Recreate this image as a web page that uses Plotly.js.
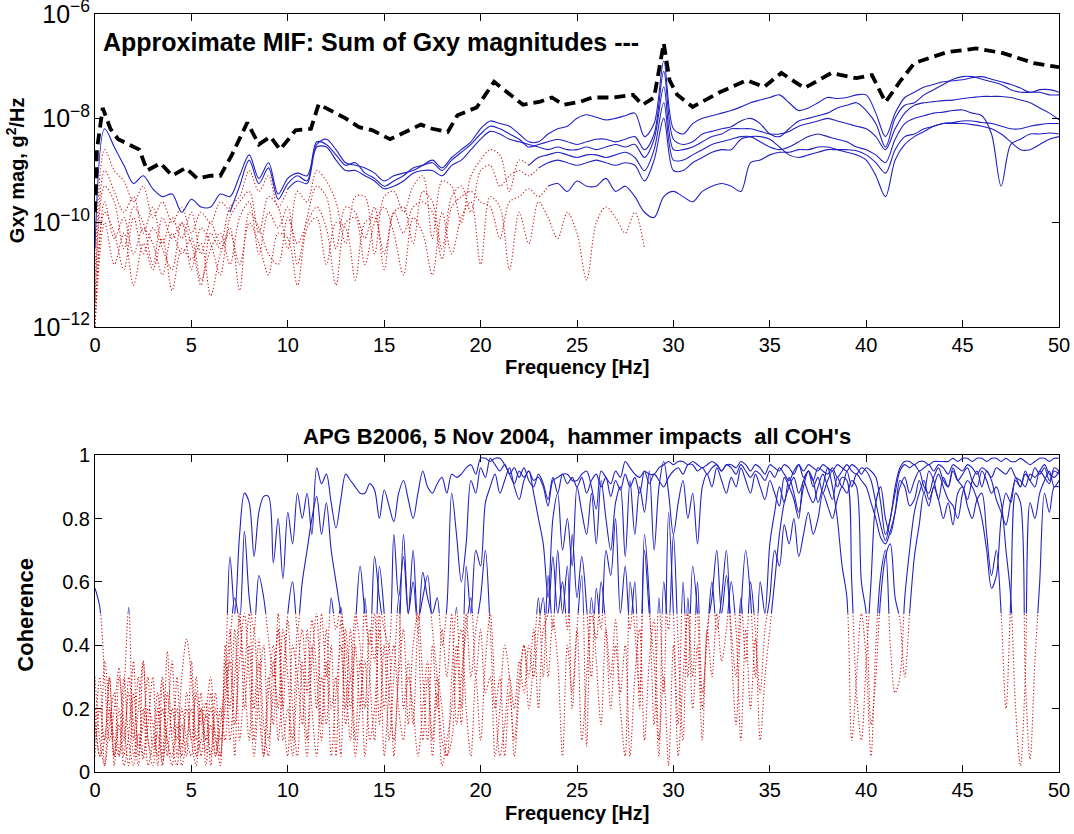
<!DOCTYPE html>
<html><head><meta charset="utf-8">
<script src="https://cdn.plot.ly/plotly-3.0.1.min.js"></script>
<style>html,body{margin:0;padding:0;background:#fff;} #chart{width:1074px;height:834px;}</style>
</head><body><div id="chart"></div>
<script>
// ---------- top panel: cross spectra (log10 of |Gxy|) ----------
const gxyFreq = [0,0.5,1,1.5,2,2.5,3,3.5,4,4.5,5,5.5,6,6.5,7,7.5,8,8.5,9,9.5,
 10,10.5,11,11.5,12,12.5,13,13.5,14,14.5,15,15.5,16,16.5,17,17.5,18,18.5,19,19.5,
 20,20.5,21,21.5,22,22.5,23,23.5,24,24.5,25,25.5,26,26.5,27,27.5,28,28.5,29,29.5,
 30,30.5,31,31.5,32,32.5,33,33.5,34,34.5,35,35.5,36,36.5,37,37.5,38,38.5,39,39.5,
 40,40.5,41,41.5,42,42.5,43,43.5,44,44.5,45,45.5,46,46.5,47,47.5,48,48.5,49,49.5,50];
const gxyCh1 = [-10.5,-8.2,-8.55,-8.9,-9.25,-9.1,-9.35,-9.5,-9.45,-9.8,
 -9.55,-9.7,-9.7,-9.45,-9.5,-9.1,-8.7,-9.15,-8.85,-9.45,
 -9.15,-9.05,-9.1,-8.5,-8.4,-8.6,-8.85,-8.9,-8.95,-9.05,
 -9.2,-9.1,-9.05,-9.0,-8.9,-8.8,-8.95,-8.75,-8.6,-8.45,
 -8.2,-8.05,-8.1,-8.15,-8.3,-8.45,-8.45,-8.3,-8.2,-8.15,
 -8.0,-7.93,-7.98,-8.03,-8.0,-7.95,-7.9,-8.35,-8.1,-6.9,
 -8.2,-8.3,-8.1,-8.0,-7.95,-7.9,-7.85,-7.78,-7.7,-7.65,
 -7.6,-7.55,-7.7,-7.85,-7.8,-7.7,-7.6,-7.62,-7.6,-7.55,
 -7.55,-7.9,-8.35,-7.9,-7.6,-7.5,-7.4,-7.35,-7.3,-7.28,
 -7.26,-7.22,-7.2,-7.25,-7.3,-7.35,-7.42,-7.5,-7.45,-7.45,-7.5];
const gxyCh2 = [-11.0,-8.6,-9.0,-9.2,-9.6,-9.3,-9.9,-9.6,-10.0,-9.7,
 -10.2,-9.8,-10.0,-9.6,-9.8,-9.3,-8.8,-9.25,-8.95,-9.55,
 -9.25,-9.1,-9.2,-8.45,-8.5,-8.7,-8.9,-8.85,-9.05,-9.15,
 -9.3,-9.2,-9.1,-8.95,-8.9,-8.85,-9.0,-8.8,-8.65,-8.5,
 -8.3,-8.15,-8.2,-8.3,-8.4,-8.55,-8.5,-8.45,-8.4,-8.45,
 -8.5,-8.45,-8.4,-8.4,-8.45,-8.4,-8.35,-8.6,-8.3,-7.1,
 -8.4,-8.5,-8.45,-8.3,-8.25,-8.2,-8.16,-8.05,-8.0,-8.1,
 -8.3,-8.35,-8.2,-8.05,-8.0,-7.95,-7.9,-7.8,-7.75,-7.7,
 -7.85,-8.1,-8.55,-8.0,-7.75,-7.7,-7.55,-7.45,-7.35,-7.25,
 -7.2,-7.2,-7.25,-7.3,-7.35,-7.45,-7.5,-7.5,-7.5,-7.55,-7.55];
const gxyCh3 = [-11.5,-9.0,-9.4,-9.8,-9.5,-10.2,-9.7,-10.4,-9.9,-10.3,
 -9.8,-10.6,-10.0,-10.4,-9.7,-9.5,-9.0,-9.4,-9.1,-9.7,
 -9.35,-9.2,-9.25,-8.55,-8.55,-8.8,-9.0,-9.0,-9.1,-9.2,
 -9.35,-9.3,-9.2,-9.05,-9.0,-9.0,-9.1,-8.9,-8.8,-8.6,
 -8.4,-8.25,-8.3,-8.4,-8.45,-8.5,-8.55,-8.6,-8.55,-8.6,
 -8.6,-8.55,-8.6,-8.55,-8.5,-8.55,-8.5,-8.75,-8.4,-7.4,
 -8.6,-8.6,-8.55,-8.45,-8.35,-8.3,-8.2,-8.2,-8.2,-8.25,
 -8.3,-8.3,-8.25,-8.15,-8.1,-8.05,-8.0,-8.05,-8.1,-8.15,
 -8.2,-8.35,-8.6,-8.2,-7.9,-7.75,-7.7,-7.68,-7.66,-7.65,
 -7.62,-7.6,-7.58,-7.58,-7.58,-7.6,-7.65,-7.7,-7.8,-7.9,-8.03];
const gxyCh4 = [-11.8,-9.3,-9.6,-10.5,-9.7,-10.0,-10.8,-9.9,-10.3,-10.0,
 -10.9,-10.1,-10.4,-11.0,-9.9,-9.6,-9.4,-10.2,-9.5,-9.7,
 -10.5,-9.4,-9.6,-9.0,-9.2,-9.6,-10.4,-9.5,-9.5,-10.6,
 -9.5,-9.4,-9.8,-9.3,-9.1,-10.3,-9.2,-9.3,-10.0,-9.1,
 -8.8,-8.6,-8.7,-9.4,-8.8,-8.9,-8.75,-8.7,-8.65,-8.7,
 -8.75,-8.7,-8.7,-8.75,-8.7,-8.65,-8.75,-9.0,-8.6,-7.7,
 -8.8,-8.8,-8.7,-8.6,-8.5,-8.45,-8.4,-8.35,-8.35,-8.45,
 -8.55,-8.6,-8.55,-8.45,-8.35,-8.3,-8.35,-8.4,-8.45,-8.55,
 -8.6,-8.7,-8.85,-8.4,-8.1,-8.0,-7.95,-7.9,-7.88,-7.85,
 -7.84,-7.9,-7.95,-8.3,-9.3,-8.5,-8.4,-8.3,-8.3,-8.28,-8.3];
const gxyCh5 = [-12.0,-9.6,-10.3,-9.9,-10.6,-10.1,-10.4,-11.0,-10.2,-10.6,
 -10.3,-11.1,-10.5,-10.2,-10.8,-9.9,-9.6,-10.6,-9.8,-10.1,
 -9.7,-10.8,-9.9,-9.3,-9.5,-10.5,-9.7,-9.8,-10.3,-9.7,
 -10.9,-9.8,-9.7,-10.4,-9.4,-9.6,-10.5,-9.5,-9.3,-9.8,
 -9.0,-8.9,-9.3,-9.1,-9.0,-9.1,-8.95,-8.85,-8.8,-8.85,
 -8.9,-8.85,-8.8,-8.85,-8.9,-8.85,-8.9,-9.2,-8.8,-8.0,
 -9.0,-9.0,-8.85,-8.75,-8.65,-8.6,-8.6,-8.4,-8.35,-8.35,
 -8.4,-8.55,-8.7,-8.75,-8.7,-8.65,-8.6,-8.6,-8.6,-8.62,
 -8.7,-8.85,-9.05,-8.6,-8.35,-8.3,-8.2,-8.15,-8.1,-8.1,
 -8.1,-8.12,-8.15,-8.2,-8.3,-8.45,-8.6,-8.6,-8.5,-8.4,-8.35];
const gxyCh6 = [-12.0,-10.0,-10.8,-10.2,-11.2,-10.4,-10.9,-10.3,-11.3,-10.5,
 -10.7,-10.4,-11.4,-10.6,-10.2,-10.8,-10.0,-10.4,-11.0,-10.2,
 -10.3,-11.2,-10.1,-9.9,-10.8,-10.0,-10.1,-11.1,-10.0,-9.9,
 -10.6,-9.8,-10.2,-9.7,-9.6,-9.8,-10.7,-9.7,-9.5,-9.4,
 -9.6,-9.7,-10.3,-9.6,-9.5,-9.35,-9.5,-9.3,-9.25,-9.4,
 -9.2,-9.3,-9.3,-9.15,-9.4,-9.3,-9.5,-9.8,-9.9,-9.5,
 -9.4,-9.5,-9.6,-9.4,-9.3,-9.25,-9.3,-9.4,-8.85,-8.8,
 -8.7,-8.65,-8.65,-8.6,-8.6,-8.55,-8.55,-8.6,-8.65,-8.7,
 -8.8,-9.1,-9.5,-8.8,-8.5,-8.35,-8.25,-8.15,-8.1,-8.08,
 -8.05,-8.05,-8.08,-8.1,-8.15,-8.2,-8.2,-8.15,-8.12,-8.1,-8.1];
// extra low-coherence cross spectrum seen only as red dots (0 - 28.5 Hz)
const gxyRedFreq = [0,0.5,1,1.5,2,2.5,3,3.5,4,4.5,5,5.5,6,6.5,7,7.5,8,8.5,9,9.5,
 10,10.5,11,11.5,12,12.5,13,13.5,14,14.5,15,15.5,16,16.5,17,17.5,18,18.5,19,19.5,
 20,20.5,21,21.5,22,22.5,23,23.5,24,24.5,25,25.5,26,26.5,27,27.5,28,28.5];
const gxyRed = [-12,-9.8,-10.2,-10.9,-9.9,-10.6,-10.1,-10.5,-10.9,-10.0,
 -10.4,-11.2,-10.2,-10.5,-10.1,-11.3,-9.8,-10.1,-10.6,-10.8,
 -9.9,-10.4,-10.0,-9.7,-10.1,-11.2,-10.0,-9.9,-10.8,-10.0,
 -9.7,-10.2,-11.0,-9.9,-10.2,-11.0,-9.8,-10.6,-9.9,-9.6,
 -10.8,-9.5,-9.7,-10.9,-9.8,-10.4,-9.6,-9.9,-10.3,-9.8,
 -10.2,-11.1,-10.0,-9.7,-9.9,-10.2,-9.8,-10.5];
// approximate MIF (sum of Gxy magnitudes), log10
const mifFreq = [0,0.1,0.4,0.8,1.2,1.8,2.3,2.7,3.4,4.0,4.7,5.3,6.0,6.5,7.1,7.9,8.5,9.1,9.6,10.4,
 11.2,11.6,12.2,13.0,13.7,14.4,15.3,16.0,16.9,17.5,18.3,18.8,19.8,20.7,21.4,22.2,23.1,23.7,24.3,25.2,
 25.8,26.9,27.9,28.4,29.0,29.5,29.8,30.2,31.0,31.9,32.4,33.8,34.7,35.6,36.8,38.2,39.5,40.3,41.0,41.8,
 42.5,44.2,45.7,47.1,48.7,50];
const mifLog = [-9.8,-8.6,-7.8,-8.2,-8.4,-8.5,-8.6,-9.0,-8.86,-9.1,-8.95,-9.15,-9.1,-9.1,-8.7,-8.08,-8.5,-8.35,-8.6,-8.23,
 -8.2,-7.73,-7.85,-8.0,-8.17,-8.23,-8.4,-8.27,-8.12,-8.2,-8.26,-7.94,-7.79,-7.3,-7.5,-7.74,-7.68,-7.6,-7.74,-7.68,
 -7.6,-7.6,-7.55,-7.74,-7.6,-6.56,-7.27,-7.55,-7.78,-7.6,-7.5,-7.27,-7.4,-7.13,-7.42,-7.13,-7.23,-7.17,-7.69,-7.27,
 -6.94,-6.73,-6.66,-6.75,-6.94,-7.02];

// ---------- bottom panel: coherence ----------
const cohFreq = [0,0.25,0.5,0.75,1,1.25,1.5,1.75,2,2.25,2.5,2.75,3,3.25,3.5,3.75,4,4.25,4.5,4.75,
 5,5.25,5.5,5.75,6,6.25,6.5,6.75,7,7.25,7.5,7.75,8,8.25,8.5,8.75,9,9.25,9.5,9.75,
 10,10.25,10.5,10.75,11,11.25,11.5,11.75,12,12.25,12.5,12.75,13,13.25,13.5,13.75,14,14.25,14.5,14.75,
 15,15.25,15.5,15.75,16,16.25,16.5,16.75,17,17.25,17.5,17.75,18,18.25,18.5,18.75,19,19.25,19.5,19.75,
 20,20.25,20.5,20.75,21,21.25,21.5,21.75,22,22.25,22.5,22.75,23,23.25,23.5,23.75,24,24.25,24.5,24.75,
 25,25.25,25.5,25.75,26,26.25,26.5,26.75,27,27.25,27.5,27.75,28,28.25,28.5,28.75,29,29.25,29.5,29.75,
 30,30.25,30.5,30.75,31,31.25,31.5,31.75,32,32.25,32.5,32.75,33,33.25,33.5,33.75,34,34.25,34.5,34.75,
 35,35.25,35.5,35.75,36,36.25,36.5,36.75,37,37.25,37.5,37.75,38,38.25,38.5,38.75,39,39.25,39.5,39.75,
 40,40.25,40.5,40.75,41,41.25,41.5,41.75,42,42.25,42.5,42.75,43,43.25,43.5,43.75,44,44.25,44.5,44.75,
 45,45.25,45.5,45.75,46,46.25,46.5,46.75,47,47.25,47.5,47.75,48,48.25,48.5,48.75,49,49.25,49.5,49.75,50];
const cohCh1 = [0.58,0.52,0.3,0.1, 0.2,0.33,0.1,0.25, 0.05,0.2,0.35,0.1, 0.02,0.15,0.3,0.05, 0.2,0.1,0.3,0.42,
 0.3,0.05,0.2,0.1, 0.25,0.05,0.15,0.3, 0.68,0.5,0.75,0.88, 0.85,0.68,0.82,0.87, 0.87,0.66,0.8,0.61,
 0.82,0.72,0.88,0.8, 0.88,0.75,0.96,0.91, 0.94,0.85,0.77,0.86, 0.94,0.92,0.9,0.88, 0.88,0.91,0.89,0.8,
 0.89,0.84,0.79,0.88, 0.92,0.86,0.8,0.88, 0.95,0.9,0.88,0.91, 0.93,0.88,0.94,0.93, 0.94,0.96,0.97,0.94,
 0.99,0.99,0.98,0.99, 0.99,0.97,0.94,0.91, 0.95,0.93,0.95,0.92, 0.93,0.9,0.84,0.92, 0.93,0.94,0.94,0.92,
 0.92,0.94,0.95,0.9, 0.83,0.95,0.93,0.91, 0.95,0.93,0.98,0.96, 0.94,0.93,0.95,0.94, 0.94,0.96,0.97,0.98,
 0.97,0.98,0.98,0.97, 0.98,0.97,0.96,0.97, 0.98,0.97,0.95,0.97, 0.97,0.96,0.98,0.97, 0.95,0.97,0.96,0.94,
 0.97,0.96,0.95,0.97, 0.96,0.94,0.97,0.95, 0.97,0.96,0.95,0.97, 0.96,0.95,0.97,0.96, 0.95,0.97,0.96,0.94,
 0.96,0.95,0.93,0.85, 0.75,0.8,0.9,0.96, 0.98,0.98,0.97,0.98, 0.98,0.97,0.98,0.98, 0.98,0.98,0.99,0.98,
 0.99,0.99,0.98,0.99, 0.99,0.98,0.99,0.99, 0.98,0.99,0.98,0.98, 0.99,0.98,0.97,0.98, 0.99,0.99,0.98,0.99, 0.99];
const cohCh2 = [0.2,0.05,0.1,0.3, 0.05,0.15,0.02,0.12, 0.35,0.05,0.2,0.02, 0.1,0.25,0.05,0.38, 0.1,0.02,0.15,0.05,
 0.35,0.1,0.25,0.02, 0.15,0.05,0.2,0.1, 0.4,0.55,0.48,0.76, 0.55,0.45,0.62,0.55, 0.42,0.3,0.45,0.2,
 0.5,0.6,0.45,0.6, 0.7,0.8,0.87,0.75, 0.85,0.7,0.6,0.5, 0.4,0.2,0.45,0.65, 0.5,0.4,0.68,0.55,
 0.45,0.4,0.75,0.55, 0.68,0.5,0.6,0.45, 0.63,0.55,0.5,0.55, 0.4,0.52,0.88,0.75, 0.6,0.72,0.92,0.88,
 0.96,0.93,0.99,0.97, 0.95,0.97,0.94,0.96, 0.93,0.96,0.92,0.9, 0.94,0.91,0.86,0.93, 0.88,0.94,0.91,0.93,
 0.9,0.93,0.88,0.92, 0.94,0.9,0.93,0.87, 0.92,0.89,0.94,0.9, 0.93,0.88,0.95,0.91, 0.94,0.92,0.9,0.93,
 0.95,0.96,0.94,0.97, 0.97,0.95,0.96,0.94, 0.96,0.97,0.95,0.97, 0.96,0.94,0.97,0.95, 0.93,0.95,0.94,0.92,
 0.95,0.93,0.96,0.94, 0.92,0.95,0.97,0.93, 0.95,0.92,0.96,0.95, 0.94,0.96,0.93,0.95, 0.97,0.95,0.94,0.96,
 0.95,0.92,0.85,0.78, 0.73,0.8,0.88,0.95, 0.97,0.96,0.97,0.95, 0.96,0.97,0.95,0.97, 0.96,0.94,0.97,0.96,
 0.95,0.97,0.96,0.94, 0.96,0.95,0.93,0.96, 0.95,0.94,0.96,0.93, 0.92,0.9,0.94,0.93, 0.95,0.97,0.94,0.93, 0.95];
const cohCh3 = [0.1,0.3,0.02,0.2, 0.1,0.05,0.25,0.52, 0.1,0.3,0.05,0.15, 0.3,0.02,0.2,0.1, 0.05,0.3,0.08,0.2,
 0.1,0.25,0.05,0.18, 0.3,0.1,0.05,0.4, 0.1,0.3,0.5,0.2, 0.4,0.1,0.35,0.05, 0.25,0.4,0.1,0.3,
 0.48,0.2,0.05,0.35, 0.1,0.4,0.2,0.5, 0.3,0.55,0.45,0.52, 0.3,0.1,0.4,0.2, 0.55,0.3,0.1,0.5,
 0.2,0.4,0.05,0.35, 0.75,0.5,0.7,0.48, 0.55,0.62,0.45,0.3, 0.1,0.05,0.3,0.52, 0.2,0.65,0.5,0.7,
 0.65,0.85,0.9,0.94, 0.88,0.92,0.96,0.9, 0.86,0.92,0.95,0.88, 0.8,0.72,0.55,0.8, 0.88,0.7,0.8,0.65,
 0.9,0.82,0.75,0.88, 0.72,0.92,0.8,0.7, 0.85,0.9,0.68,0.92, 0.75,0.9,0.82,0.95, 0.7,0.9,0.98,0.88,
 0.75,0.85,0.92,0.8, 0.88,0.72,0.9,0.94, 0.9,0.96,0.92,0.88, 0.93,0.9,0.96,0.92, 0.88,0.94,0.9,0.86,
 0.92,0.88,0.84,0.93, 0.9,0.86,0.8,0.92, 0.88,0.85,0.9,0.94, 0.9,0.86,0.93,0.9, 0.95,0.9,0.94,0.92,
 0.9,0.85,0.8,0.74, 0.72,0.76,0.82,0.92, 0.9,0.84,0.86,0.92, 0.88,0.95,0.92,0.86, 0.93,0.9,0.96,0.92,
 0.9,0.86,0.92,0.95, 0.9,0.95,0.92,0.86, 0.82,0.78,0.86,0.92, 0.9,0.95,0.92,0.96, 0.94,0.96,0.92,0.95, 0.94];
const cohCh4 = [0.05,0.2,0.1,0.3, 0.02,0.2,0.05,0.3, 0.15,0.02,0.35,0.1, 0.05,0.2,0.03,0.15, 0.35,0.05,0.2,0.1,
 0.05,0.3,0.15,0.22, 0.02,0.2,0.05,0.25, 0.35,0.05,0.48,0.3, 0.1,0.45,0.2,0.05, 0.3,0.15,0.5,0.2,
 0.05,0.4,0.3,0.15, 0.45,0.2,0.05,0.3, 0.15,0.4,0.05,0.48, 0.2,0.45,0.1,0.35, 0.05,0.3,0.5,0.15,
 0.4,0.1,0.3,0.55, 0.2,0.35,0.15,0.45, 0.1,0.3,0.05,0.25, 0.02,0.1,0.2,0.4, 0.15,0.5,0.3,0.45,
 0.55,0.7,0.45,0.2, 0.3,0.05,0.25,0.1, 0.3,0.4,0.2,0.35, 0.55,0.3,0.62,0.45, 0.7,0.5,0.65,0.2,
 0.45,0.62,0.08,0.5, 0.42,0.6,0.45,0.2, 0.4,0.2,0.05,0.6, 0.45,0.25,0.7,0.5, 0.35,0.05,0.6,0.45,
 0.75,0.4,0.1,0.55, 0.3,0.6,0.25,0.42, 0.6,0.45,0.55,0.7, 0.4,0.15,0.5,0.7, 0.55,0.3,0.6,0.5,
 0.72,0.82,0.9,0.85, 0.93,0.88,0.82,0.9, 0.95,0.92,0.85,0.9, 0.96,0.9,0.8,0.65, 0.55,0.1,0.3,0.5,
 0.35,0.05,0.4,0.62, 0.7,0.4,0.25,0.3, 0.55,0.7,0.82,0.88, 0.92,0.86,0.9,0.94, 0.9,0.86,0.84,0.8,
 0.88,0.92,0.9,0.86, 0.8,0.7,0.58,0.62, 0.8,0.88,0.85,0.93, 0.9,0.94,0.92,0.9, 0.95,0.93,0.91,0.96, 0.95];
const cohCh5 = [0.3,0.1,0.02,0.15, 0.25,0.05,0.3,0.1, 0.02,0.12,0.04,0.2, 0.15,0.05,0.28,0.1, 0.02,0.15,0.05,0.25,
 0.1,0.02,0.2,0.06, 0.2,0.12,0.02,0.35, 0.2,0.45,0.1,0.3, 0.5,0.2,0.42,0.15, 0.05,0.35,0.2,0.45,
 0.3,0.1,0.45,0.25, 0.05,0.35,0.5,0.15, 0.45,0.2,0.3,0.05, 0.45,0.3,0.5,0.4, 0.2,0.45,0.35,0.65,
 0.5,0.25,0.1,0.3, 0.45,0.15,0.4,0.5, 0.3,0.1,0.4,0.2, 0.45,0.3,0.5,0.15, 0.3,0.45,0.55,0.3,
 0.45,0.25,0.3,0.05, 0.2,0.4,0.3,0.05, 0.25,0.4,0.3,0.45, 0.2,0.45,0.5,0.68, 0.5,0.6,0.45,0.75,
 0.55,0.68,0.52,0.3, 0.58,0.45,0.7,0.62, 0.8,0.5,0.65,0.45, 0.6,0.2,0.75,0.55, 0.15,0.55,0.25,0.82,
 0.5,0.15,0.6,0.3, 0.65,0.5,0.2,0.45, 0.55,0.7,0.5,0.62, 0.45,0.3,0.55,0.35, 0.6,0.45,0.25,0.45,
 0.55,0.7,0.65,0.78, 0.72,0.8,0.68,0.75, 0.82,0.75,0.8,0.88, 0.84,0.8,0.86,0.9, 0.88,0.92,0.9,0.6,
 0.5,0.15,0.3,0.55, 0.68,0.72,0.55,0.48, 0.3,0.5,0.68,0.78, 0.88,0.84,0.9,0.86, 0.8,0.85,0.78,0.88,
 0.9,0.84,0.8,0.86, 0.88,0.75,0.62,0.7, 0.5,0.2,0.55,0.88, 0.85,0.3,0.04,0.35, 0.6,0.88,0.82,0.9, 0.9];
const cohCh6 = [0.15,0.05,0.35,0.2, 0.05,0.3,0.15,0.02, 0.25,0.08,0.15,0.3, 0.08,0.12,0.02,0.25, 0.12,0.2,0.02,0.1,
 0.2,0.05,0.1,0.18, 0.05,0.25,0.1,0.2, 0.45,0.15,0.35,0.5, 0.3,0.05,0.25,0.4, 0.1,0.25,0.45,0.1,
 0.2,0.05,0.3,0.45, 0.25,0.48,0.3,0.1, 0.35,0.05,0.25,0.4, 0.15,0.3,0.05,0.2, 0.35,0.1,0.2,0.45,
 0.05,0.25,0.4,0.2, 0.1,0.3,0.2,0.05, 0.2,0.35,0.1,0.3, 0.2,0.05,0.1,0.35, 0.45,0.2,0.05,0.3,
 0.1,0.35,0.5,0.25, 0.05,0.15,0.3,0.2, 0.35,0.25,0.4,0.3, 0.45,0.55,0.3,0.48, 0.35,0.05,0.4,0.25,
 0.45,0.1,0.3,0.55, 0.35,0.15,0.45,0.3, 0.48,0.25,0.4,0.05, 0.3,0.45,0.1,0.35, 0.48,0.1,0.3,0.02,
 0.4,0.05,0.3,0.5, 0.2,0.4,0.1,0.45, 0.3,0.5,0.35,0.45, 0.6,0.45,0.1,0.45, 0.2,0.42,0.1,0.3,
 0.45,0.6,0.75,0.85, 0.9,0.93,0.88,0.92, 0.95,0.9,0.93,0.88, 0.92,0.95,0.9,0.93, 0.92,0.6,0.25,0.1,
 0.35,0.6,0.85,0.9, 0.8,0.75,0.82,0.9, 0.93,0.88,0.92,0.95, 0.9,0.88,0.93,0.96, 0.92,0.9,0.95,0.92,
 0.94,0.96,0.92,0.9, 0.95,0.92,0.88,0.9, 0.85,0.7,0.55,0.2, 0.02,0.3,0.85,0.8, 0.88,0.92,0.95,0.9, 0.92];

// ---------- styling / assembly ----------
const BLUE = '#2222c2', RED = '#cc1111';
const FONT = 'Arial, "Liberation Sans", Helvetica, sans-serif';
const gxyChannels = [gxyCh1, gxyCh2, gxyCh3, gxyCh4, gxyCh5, gxyCh6];
const blueFrom = [0, 7, 10, 22.5, 23, 23.5];   // style: frequency where each trace switches to solid blue
const cohChannels = [cohCh1, cohCh2, cohCh3, cohCh4, cohCh5, cohCh6];
const pw = v => Math.pow(10, v);

const traces = [];
const redStyle = {color: RED, width: 1.1, dash: '1.2px,2.2px', shape: 'spline', smoothing: 0.9};
const blueStyle = {color: BLUE, width: 1.1, shape: 'spline', smoothing: 0.9};
const base = {type: 'scatter', mode: 'lines', hoverinfo: 'skip', showlegend: false};
// top: red dotted parts first
traces.push(Object.assign({}, base, {x: gxyRedFreq, y: gxyRed.map(pw), xaxis: 'x', yaxis: 'y', line: redStyle}));
gxyChannels.forEach((ch, i) => {
  const x = [], y = [];
  gxyFreq.forEach((f, k) => { if (f <= blueFrom[i]) { x.push(f); y.push(pw(ch[k])); } });
  if (x.length > 1) traces.push(Object.assign({}, base, {x, y, xaxis: 'x', yaxis: 'y', line: redStyle}));
});
gxyChannels.forEach((ch, i) => {
  const x = [], y = [];
  gxyFreq.forEach((f, k) => { if (f >= blueFrom[i]) { x.push(f); y.push(pw(ch[k])); } });
  traces.push(Object.assign({}, base, {x, y, xaxis: 'x', yaxis: 'y', line: blueStyle}));
});
traces.push(Object.assign({}, base, {x: mifFreq, y: mifLog.map(pw), xaxis: 'x', yaxis: 'y',
  line: {color: '#000', width: 3.8, dash: '11px,6px'}}));

// bottom: same data drawn twice, clipped by two stacked plot areas (below / above 0.5)
traces.push(Object.assign({}, base, {x: [], y: [], xaxis: 'x2', yaxis: 'y2'}));
cohChannels.forEach(ch => {
  traces.push(Object.assign({}, base, {x: cohFreq, y: ch, xaxis: 'x2', yaxis: 'y4', line: redStyle}));
});
cohChannels.forEach(ch => {
  traces.push(Object.assign({}, base, {x: cohFreq, y: ch, xaxis: 'x2', yaxis: 'y3', line: blueStyle}));
});

const axBase = {showline: true, linecolor: '#000', linewidth: 1, mirror: 'ticks', ticks: 'inside', ticklen: 7,
  tickcolor: '#000', showgrid: false, zeroline: false, ticklabeloverflow: 'allow',
  tickfont: {family: FONT, size: 20, color: '#000'}};
const topDom = [0.587, 1.0], botDom = [0, 0.418];
const mid = (botDom[0] + botDom[1]) / 2;
const layout = {
  width: 1074, height: 834,
  margin: {l: 95, r: 15, t: 14, b: 62},
  paper_bgcolor: '#fff', plot_bgcolor: 'rgba(0,0,0,0)',
  showlegend: false,
  xaxis: Object.assign({}, axBase, {domain: [0, 1], anchor: 'y', range: [0, 50], dtick: 5, tick0: 0}),
  yaxis: Object.assign({}, axBase, {domain: topDom, anchor: 'x', type: 'log', range: [-12, -6], dtick: 2, exponentformat: 'power'}),
  xaxis2: Object.assign({}, axBase, {domain: [0, 1], anchor: 'y2', range: [0, 50], dtick: 5, tick0: 0}),
  yaxis2: Object.assign({}, axBase, {domain: botDom, anchor: 'x2', range: [0, 1], dtick: 0.2}),
  yaxis3: {domain: [mid, botDom[1]], anchor: 'x2', range: [0.5, 1], visible: false, showgrid: false, zeroline: false},
  yaxis4: {domain: [botDom[0], mid], anchor: 'x2', range: [0, 0.5], visible: false, showgrid: false, zeroline: false},
  annotations: [
    {text: '<b>Approximate MIF: Sum of Gxy magnitudes ---</b>', xref: 'paper', yref: 'paper', x: 0.006, y: 0.963,
     xanchor: 'left', yanchor: 'middle', showarrow: false, font: {family: FONT, size: 25, color: '#000'}},
    {text: '<b>Gxy mag, g<sup>2</sup>/Hz</b>', xref: 'paper', yref: 'paper', x: -0.083, y: 0.794, textangle: -90,
     xanchor: 'center', yanchor: 'middle', showarrow: false, font: {family: FONT, size: 20, color: '#000'}},
    {text: '<b>Frequency [Hz]</b>', xref: 'paper', yref: 'paper', x: 0.5, y: 0.534,
     xanchor: 'center', yanchor: 'middle', showarrow: false, font: {family: FONT, size: 20, color: '#000'}},
    {text: '<b>APG B2006, 5 Nov 2004,\u00a0 hammer impacts\u00a0 all COH\'s</b>', xref: 'paper', yref: 'paper', x: 0.5, y: 0.442,
     xanchor: 'center', yanchor: 'middle', showarrow: false, font: {family: FONT, size: 22, color: '#000'}},
    {text: '<b>Coherence</b>', xref: 'paper', yref: 'paper', x: -0.072, y: 0.207, textangle: -90,
     xanchor: 'center', yanchor: 'middle', showarrow: false, font: {family: FONT, size: 22, color: '#000'}},
    {text: '<b>Frequency [Hz]</b>', xref: 'paper', yref: 'paper', x: 0.5, y: -0.054,
     xanchor: 'center', yanchor: 'middle', showarrow: false, font: {family: FONT, size: 20, color: '#000'}}
  ]
};
Plotly.newPlot('chart', traces, layout, {displayModeBar: false, staticPlot: true});
</script>
</body></html>
